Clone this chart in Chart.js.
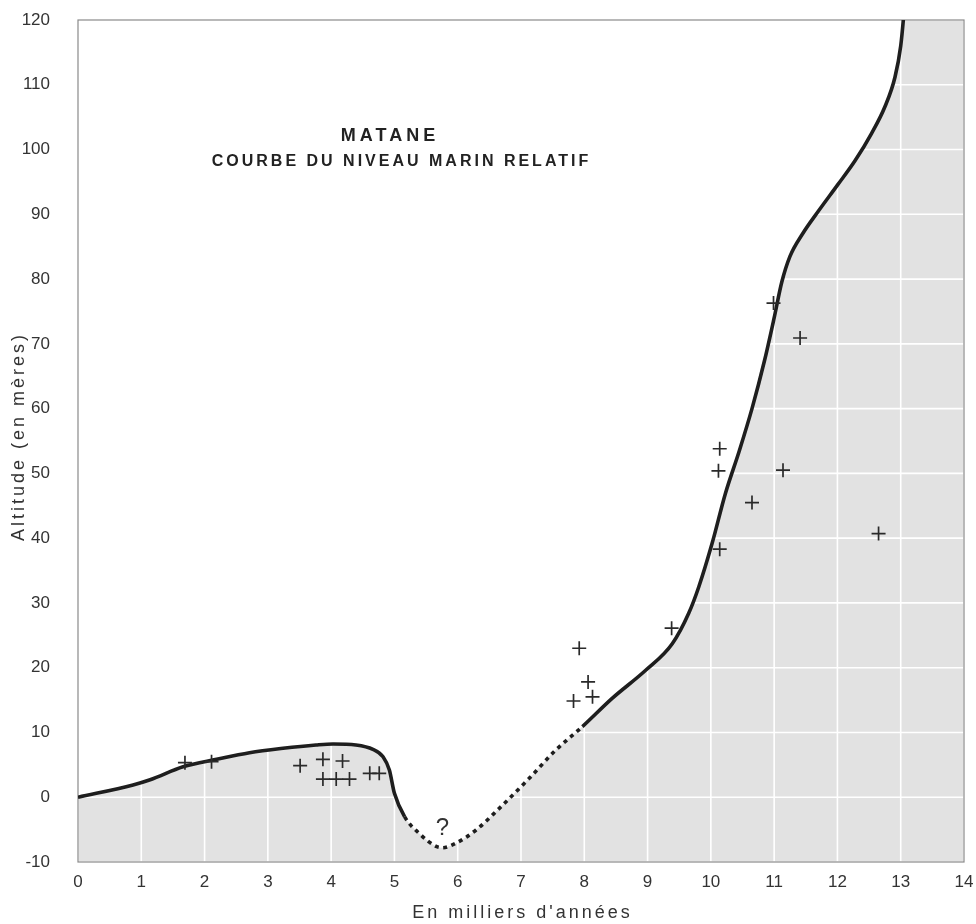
<!DOCTYPE html>
<html><head><meta charset="utf-8">
<script src="https://cdn.jsdelivr.net/npm/chart.js@4.4.1/dist/chart.umd.min.js"></script>
<style>html,body{margin:0;padding:0;background:#fff}#wrap{width:976px;height:924px;position:relative}</style>
</head><body><div id="wrap"><canvas id="c"></canvas></div>
<script>
// Relative sea-level curve (thousands of years BP, metres)
const curveX = [0, 0.87, 1.14, 1.66, 2.19, 2.71, 3.24, 3.76, 4.03, 4.39, 4.66, 4.82, 4.92, 5.0, 5.16,
  5.39, 5.66, 5.76, 5.97, 6.29, 6.63, 7.13, 7.55, 7.97,
  8.44, 8.97, 9.39, 9.65, 9.81, 10.02, 10.23, 10.45, 10.65, 10.85, 11.0, 11.12, 11.25, 11.45, 11.7,
  12.0, 12.28, 12.54, 12.75, 12.91, 13.0, 13.05, 13.08];
const curveY = [0, 1.9, 2.7, 4.7, 5.85, 6.87, 7.55, 8.06, 8.22, 8.06, 7.39, 6.25, 4.2, 0.6, -3.0,
  -5.57, -7.6, -7.8, -7.1, -5.06, -1.97, 2.92, 7.29, 10.9,
  15.26, 19.6, 23.7, 28.4, 32.5, 39.2, 46.9, 53.5, 60.0, 67.5, 74.0, 79.5, 83.5, 87.0, 90.5,
  94.5, 98.3, 102.5, 106.6, 111.2, 116.0, 121, 125];
// uncertain (dotted) part of the curve
const dottedFrom = 5.16;
const dottedTo = 7.97;
// dated samples (+)
const sampleX = [1.69, 2.11, 3.51, 3.87, 4.18, 3.87, 4.08, 4.29, 4.61, 4.76,
  7.92, 8.06, 8.13, 7.83, 9.38, 10.14, 10.12, 11.14, 10.65, 12.65, 10.14, 10.99, 11.41];
const sampleY = [5.33, 5.49, 4.87, 5.86, 5.59, 2.81, 2.81, 2.81, 3.69, 3.69,
  23.0, 17.8, 15.5, 14.86, 26.1, 53.8, 50.4, 50.5, 45.5, 40.7, 38.3, 76.3, 70.9];
const xTicks = [0,1,2,3,4,5,6,7,8,9,10,11,12,13,14];
const yTicks = [-10,0,10,20,30,40,50,60,70,80,90,100,110,120];
const titleText = 'MATANE';
const subtitleText = 'COURBE DU NIVEAU MARIN RELATIF';
const xTitleText = "En milliers d'années";
const yTitleText = 'Altitude (en mères)';
const questionText = '?';
const questionAt = {x: 5.76, y: -4.8};

const curve = curveX.map((x, i) => ({x, y: curveY[i]}));
const fillPts = curve.concat([{x: xTicks[xTicks.length - 1], y: curveY[curveY.length - 1]}]);
const samples = sampleX.map((x, i) => ({x, y: sampleY[i]}));

const FONT = "'Liberation Sans', Arial, Helvetica, sans-serif";

function spacedText(ctx, text, x, y, spacing) {
  ctx.save();
  if ('letterSpacing' in ctx) { ctx.letterSpacing = spacing + 'px'; x += spacing / 2; }
  ctx.fillText(text, x, y);
  ctx.restore();
}

const decor = {
  id: 'decor',
  afterDatasetDraw(chart, args) {
    if (args.index !== 0) return;
    const ctx = chart.ctx, a = chart.chartArea;
    const xs = chart.scales.x, ys = chart.scales.y;
    ctx.save();
    ctx.beginPath(); ctx.rect(a.left, a.top, a.right - a.left, a.bottom - a.top); ctx.clip();
    ctx.strokeStyle = '#ffffff'; ctx.lineWidth = 1.6;
    xTicks.forEach(v => { const p = xs.getPixelForValue(v); ctx.beginPath(); ctx.moveTo(p, a.top); ctx.lineTo(p, a.bottom); ctx.stroke(); });
    yTicks.forEach(v => { const p = ys.getPixelForValue(v); ctx.beginPath(); ctx.moveTo(a.left, p); ctx.lineTo(a.right, p); ctx.stroke(); });
    ctx.restore();
    ctx.save();
    ctx.strokeStyle = '#8a8a8a'; ctx.lineWidth = 1.2;
    ctx.strokeRect(a.left, a.top, a.right - a.left, a.bottom - a.top);
    ctx.restore();
  },
  afterDraw(chart) {
    const ctx = chart.ctx, a = chart.chartArea;
    const xs = chart.scales.x, ys = chart.scales.y;
    ctx.save();
    ctx.fillStyle = '#222'; ctx.textAlign = 'center'; ctx.textBaseline = 'middle';
    ctx.font = 'bold 18px ' + FONT;
    spacedText(ctx, titleText, 388, 136, 4);
    ctx.font = 'bold 16px ' + FONT;
    spacedText(ctx, subtitleText, 400, 162, 3);
    ctx.font = '24px ' + FONT; ctx.fillStyle = '#333';
    ctx.fillText(questionText, xs.getPixelForValue(questionAt.x), ys.getPixelForValue(questionAt.y));
    ctx.fillStyle = '#333';
    ctx.font = '18px ' + FONT;
    spacedText(ctx, xTitleText, (a.left + a.right) / 2, 913, 3);
    ctx.translate(19, 438); ctx.rotate(-Math.PI / 2);
    spacedText(ctx, yTitleText, 0, 0, 3);
    ctx.restore();
  }
};

function noPad(s) { s.paddingTop = 0; s.paddingBottom = 0; s.paddingLeft = 0; s.paddingRight = 0; }

new Chart(document.getElementById('c'), {
  type: 'scatter',
  data: {
    datasets: [
      { type: 'line', data: fillPts, fill: 'start', backgroundColor: '#e2e2e2', borderWidth: 0,
        pointRadius: 0, cubicInterpolationMode: 'monotone', order: 3 },
      { type: 'line', data: curve, fill: false, borderColor: '#1e1e1e', borderWidth: 3.6,
        pointRadius: 0, cubicInterpolationMode: 'monotone', order: 1, borderCapStyle: 'butt',
        segment: { borderDash: c => (c.p0.parsed.x >= dottedFrom - 1e-6 && c.p1.parsed.x <= dottedTo + 1e-6) ? [4, 4.5] : undefined } },
      { type: 'scatter', data: samples, pointStyle: 'cross', pointRadius: 7, borderWidth: 1.7,
        borderColor: '#2a2a2a', backgroundColor: '#2a2a2a', order: 0 }
    ]
  },
  options: {
    responsive: true, maintainAspectRatio: false, animation: false,
    layout: { padding: { top: 20, right: 12, bottom: 0, left: 10 } },
    plugins: { legend: { display: false }, tooltip: { enabled: false }, title: { display: false } },
    scales: {
      x: { type: 'linear', min: 0, max: 14,
        afterBuildTicks: s => { s.ticks = xTicks.map(v => ({value: v})); },
        afterFit: s => { s.height = 62; noPad(s); },
        grid: { display: false, drawTicks: false }, border: { display: false },
        ticks: { color: '#333', font: { family: FONT, size: 17 }, padding: 10, maxRotation: 0, autoSkip: false } },
      y: { type: 'linear', min: -10, max: 120,
        afterBuildTicks: s => { s.ticks = yTicks.map(v => ({value: v})); },
        afterFit: s => { s.width = 68; noPad(s); },
        grid: { display: false, drawTicks: false }, border: { display: false },
        ticks: { color: '#333', font: { family: FONT, size: 17 }, padding: 28, autoSkip: false } }
    }
  },
  plugins: [decor]
});
</script>
</body></html>
